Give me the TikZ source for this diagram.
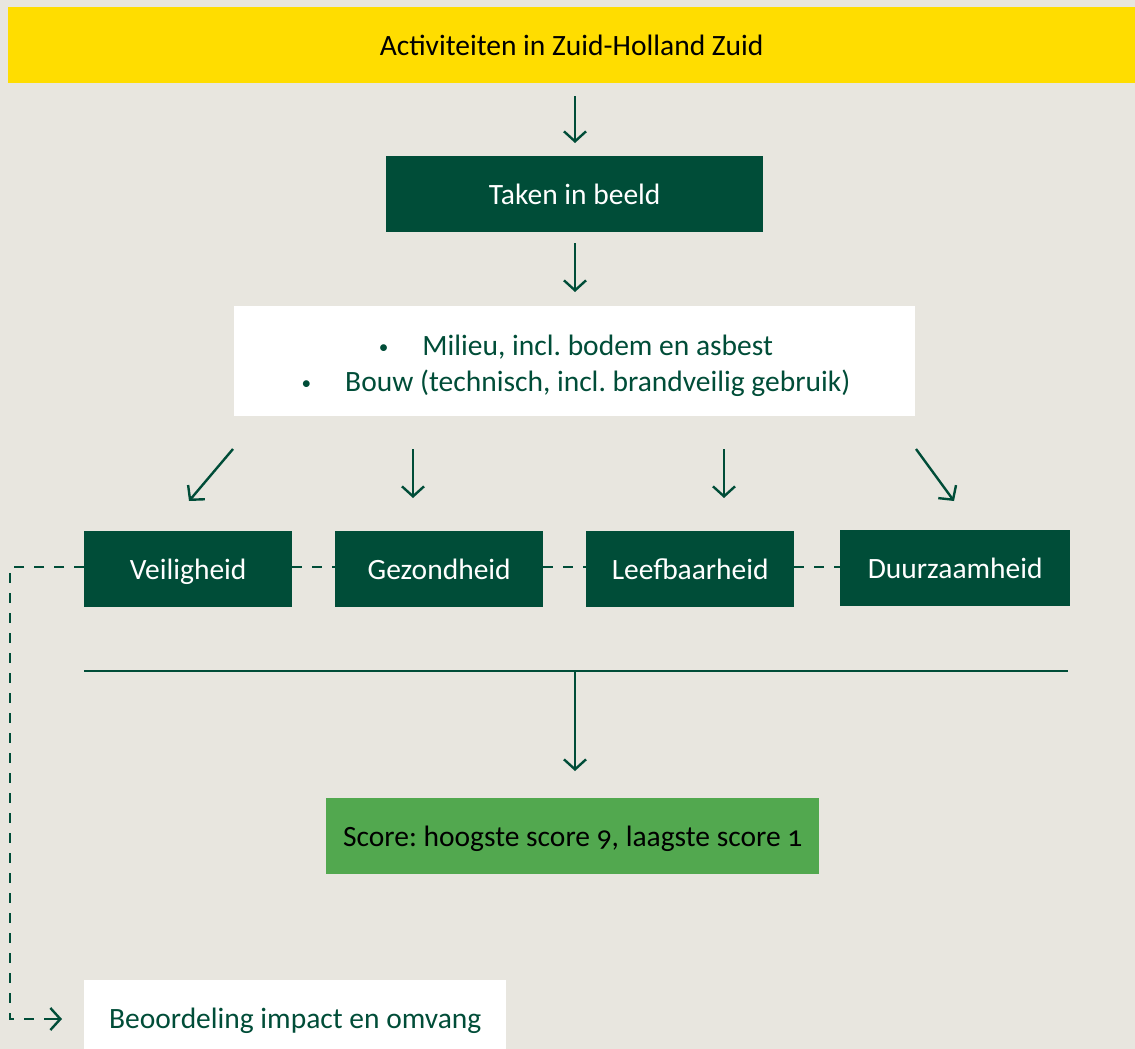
\documentclass[tikz,border=0pt]{standalone}
\usepackage{fontspec}
\setmainfont[Numbers=OldStyle]{Carlito}
\usetikzlibrary{arrows.meta}
\frenchspacing
\definecolor{bg}{HTML}{E8E6DF}
\definecolor{ylw}{HTML}{FFDD00}
\definecolor{dgreen}{HTML}{004D38}
\definecolor{lgreen}{HTML}{52A84F}
\newcommand{\mybul}{\raisebox{2pt}{\scalebox{0.65}{•}}}
\tikzset{
  x=1pt, y=-1pt,
  bigfont/.style={font=\fontsize{29.5}{34}\selectfont, text height=20pt, text depth=0pt},
  darkbox/.style={fill=dgreen, text=white, minimum height=76pt, inner sep=0pt, bigfont},
  arr/.style={draw=dgreen, line width=2.4pt, -{Straight Barb[length=10pt,width=22pt,line width=2.4pt]}},
  dsh/.style={draw=dgreen, line width=2.4pt, dash pattern=on 10pt off 10pt},
  txt/.style={bigfont, inner sep=0pt},
}
\begin{document}
\begin{tikzpicture}
\fill[bg] (0,0) rectangle (1135,1049);
\useasboundingbox (0,0) rectangle (1135,1049);
% yellow bar
\node[fill=ylw, minimum width=1127pt, minimum height=76pt, inner sep=0pt, anchor=north west, txt, text=black] (top) at (8,7) {Activiteiten in Zuid-Holland Zuid};
% Taken in beeld
\node[darkbox, minimum width=377pt, anchor=north west] (taken) at (386,156) {Taken in beeld};
% white box
\node[fill=white, minimum width=681pt, minimum height=110pt, anchor=north west, inner sep=0pt] (list) at (234,306) {};
\node[txt, text=dgreen, anchor=base] (l1) at (576,355) {\mybul\hspace{34pt}Milieu, incl. bodem en asbest};
\node[txt, text=dgreen, anchor=base] (l2) at (576,391) {\mybul\hspace{34pt}Bouw (technisch, incl. brandveilig gebruik)};
% four boxes
\node[darkbox, minimum width=208pt, anchor=north west] (v) at (84,531) {Veiligheid};
\node[darkbox, minimum width=208pt, anchor=north west] (g) at (335,531) {Gezondheid};
\node[darkbox, minimum width=208pt, anchor=north west] (l) at (586,531) {Leefbaarheid};
\node[darkbox, minimum width=230pt, anchor=north west] (d) at (840,530) {Duurzaamheid};
% score
\node[fill=lgreen, text=black, minimum width=493pt, minimum height=76pt, inner sep=0pt, anchor=north west, bigfont] (score) at (326,798) {Score: hoogste score 9, laagste score 1};
% beoordeling
\node[fill=white, text=dgreen, minimum width=422pt, minimum height=76pt, inner sep=0pt, anchor=north west, bigfont] (beo) at (84,980) {Beoordeling impact en omvang};
% arrows
\coordinate (a1s) at (575,96); \coordinate (a1e) at (575,143);
\draw[arr] (a1s) -- (a1e);
\coordinate (a2s) at (575,243); \coordinate (a2e) at (575,292);
\draw[arr] (a2s) -- (a2e);
\coordinate (b1s) at (233,449); \coordinate (b1e) at (189,501);
\draw[arr] (b1s) -- (b1e);
\coordinate (b2s) at (413,449); \coordinate (b2e) at (413,498);
\draw[arr] (b2s) -- (b2e);
\coordinate (b3s) at (724,449); \coordinate (b3e) at (724,498);
\draw[arr] (b3s) -- (b3e);
\coordinate (b4s) at (916,449); \coordinate (b4e) at (954,501);
\draw[arr] (b4s) -- (b4e);
% horizontal line
\coordinate (hl) at (84,671); \coordinate (hr) at (1068,671);
\draw[draw=dgreen, line width=2.4pt] (hl) -- (hr);
\coordinate (hm) at (575,671); \coordinate (hme) at (575,771);
\draw[arr] (hm) -- (hme);
% dashed connectors
\draw[dsh] (v.east |- 0,567) -- (g.west |- 0,567);
\draw[dsh] (g.east |- 0,567) -- (l.west |- 0,567);
\draw[dsh] (l.east |- 0,567) -- (d.west |- 0,567);
\coordinate (c1) at (10,567); \coordinate (c2) at (10,1019); \coordinate (c3) at (62,1019);
\draw[dsh] (v.west |- 0,567) -- (c1) -- (c2) -- (c3);
\draw[draw=dgreen, line width=2.4pt, -{Straight Barb[length=10pt,width=22pt,line width=2.4pt]}] (50,1019) -- (c3);
\end{tikzpicture}
\end{document}
